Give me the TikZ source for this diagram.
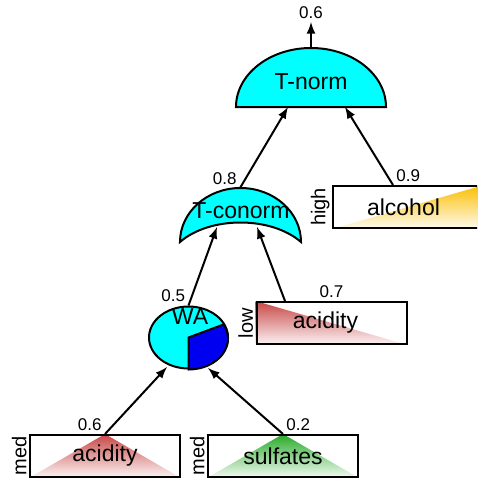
\documentclass[tikz,border=0pt]{standalone}
\usepackage{fontspec}
\setmainfont{Liberation Sans}
\usetikzlibrary{positioning,backgrounds,shapes.geometric}

\definecolor{gatecyan}{RGB}{0,255,255}
\definecolor{wablue}{RGB}{0,0,240}
\definecolor{mfred}{RGB}{200,70,70}
\definecolor{mfgreen}{RGB}{40,170,40}
\definecolor{mfgold}{RGB}{250,190,0}

\begin{document}
\begin{tikzpicture}[
    x = 0.5pt, y = -0.5pt,
    gate/.style = {draw, fill = gatecyan, line width = 1pt},
    wagate/.style = {gate, ellipse, minimum width = 39.5pt, minimum height = 31pt, inner sep = 0pt},
    gatetext/.style = {font = \fontsize{11.5}{13}\selectfont, inner sep = 0pt},
    mfbox/.style = {
        draw,
        line width = 1pt,
        minimum width = 75pt,
        minimum height = 21pt,
        inner sep = 0pt,
        font = \fontsize{11.5}{13}\selectfont
    },
    term/.style = {rotate = 90, anchor = south, inner sep = 1pt, font = \fontsize{10}{12}\selectfont},
    degree/.style = {font = \fontsize{8.5}{10}\selectfont, inner sep = 1.5pt},
    arrow/.style = {->, >=latex, line width = 1pt}
]

\path[use as bounding box, clip] (0,0) rectangle (477,481);

% T-norm gate (half dome)
\coordinate (tnormbase) at (311,107);
\draw[gate] ([xshift=-37.5pt]tnormbase) arc[start angle=180, end angle=0, x radius=37.5pt, y radius=29.5pt] -- cycle;
\node[gatetext] (tnorm) at (311,82) {T-norm};

% T-conorm gate (crescent)
\coordinate (tconormbase) at (240.5,242);
\draw[gate] ([xshift=-30.25pt]tconormbase) arc[start angle=180, end angle=0, x radius=30.25pt, y radius=27pt]
    .. controls (271,216) and (210,216) .. ([xshift=-30.25pt]tconormbase) -- cycle;
\node[gatetext] (tconorm) at (241,211) {T-conorm};

% Weighted average gate
\node[wagate] (wa) at (188.5,337.5) {};
\filldraw[fill = wablue, line width = 1pt] (wa.center) -- (wa.south)
    arc[start angle=-90, end angle=27, x radius=19.75pt, y radius=15.5pt] -- cycle;
\node[gatetext] (walabel) at (190,317) {WA};

% Membership boxes
\node[mfbox] (alcohol) at (408,207) {alcohol\hspace*{4.5pt}};
\node[mfbox] (lowacid) at (331.5,323) {acidity\hspace*{6pt}};
\node[mfbox] (medacid) at (105,456) {acidity};
\node[mfbox] (sulfates) at (283,456) {sulfates};

\node[term] at (alcohol.west) {high};
\node[term] at (lowacid.west) {low};
\node[term] at (medacid.west) {med};
\node[term] at (sulfates.west) {med};

% Membership shapes behind the text
\begin{scope}[on background layer]
    \shade[top color = mfgold, bottom color = mfgold!5] (alcohol.south west) -- (alcohol.north east) -- (alcohol.south east) -- cycle;
    \shade[top color = mfred, bottom color = mfred!5] (lowacid.north west) -- (lowacid.south east) -- (lowacid.south west) -- cycle;
    \shade[top color = mfred, bottom color = mfred!5] (medacid.south west) -- (medacid.north) -- (medacid.south east) -- cycle;
    \shade[top color = mfgreen, bottom color = mfgreen!5] (sulfates.south west) -- (sulfates.north) -- (sulfates.south east) -- cycle;
\end{scope}

% Inputs and output
\coordinate (tnormtop) at (311,48);
\coordinate (out) at (311,22);
\coordinate (tnormin1) at (288,107);
\coordinate (tnormin2) at (345,107);
\coordinate (tconormtop) at (240,188);
\coordinate (tconormin1) at (217,227);
\coordinate (tconormin2) at (257,227);
\coordinate (wain1) at (167,367);
\coordinate (wain2) at (208,368);

\draw[arrow] (tnormtop) -- (out);
\draw[arrow] (tconormtop) -- (tnormin1);
\draw[arrow] ([xshift=-7.5pt]alcohol.north) -- (tnormin2);
\draw[arrow] (wa.north) -- (tconormin1);
\draw[arrow] ([xshift=-23.25pt]lowacid.north) -- (tconormin2);
\draw[arrow] (medacid.north) -- (wain1);
\draw[arrow] (sulfates.north) -- (wain2);

% Degrees
\node[degree, anchor = south] at (out) {0.6};
\node[degree, anchor = south east] at (tconormtop) {0.8};
\node[degree, anchor = south west] at ([xshift=-7.5pt]alcohol.north) {0.9};
\node[degree, anchor = south east] at (wa.north) {0.5};
\node[degree, anchor = south] at (lowacid.north) {0.7};
\node[degree, anchor = south east] at (medacid.north) {0.6};
\node[degree, anchor = south west] at (sulfates.north) {0.2};

\end{tikzpicture}
\end{document}
